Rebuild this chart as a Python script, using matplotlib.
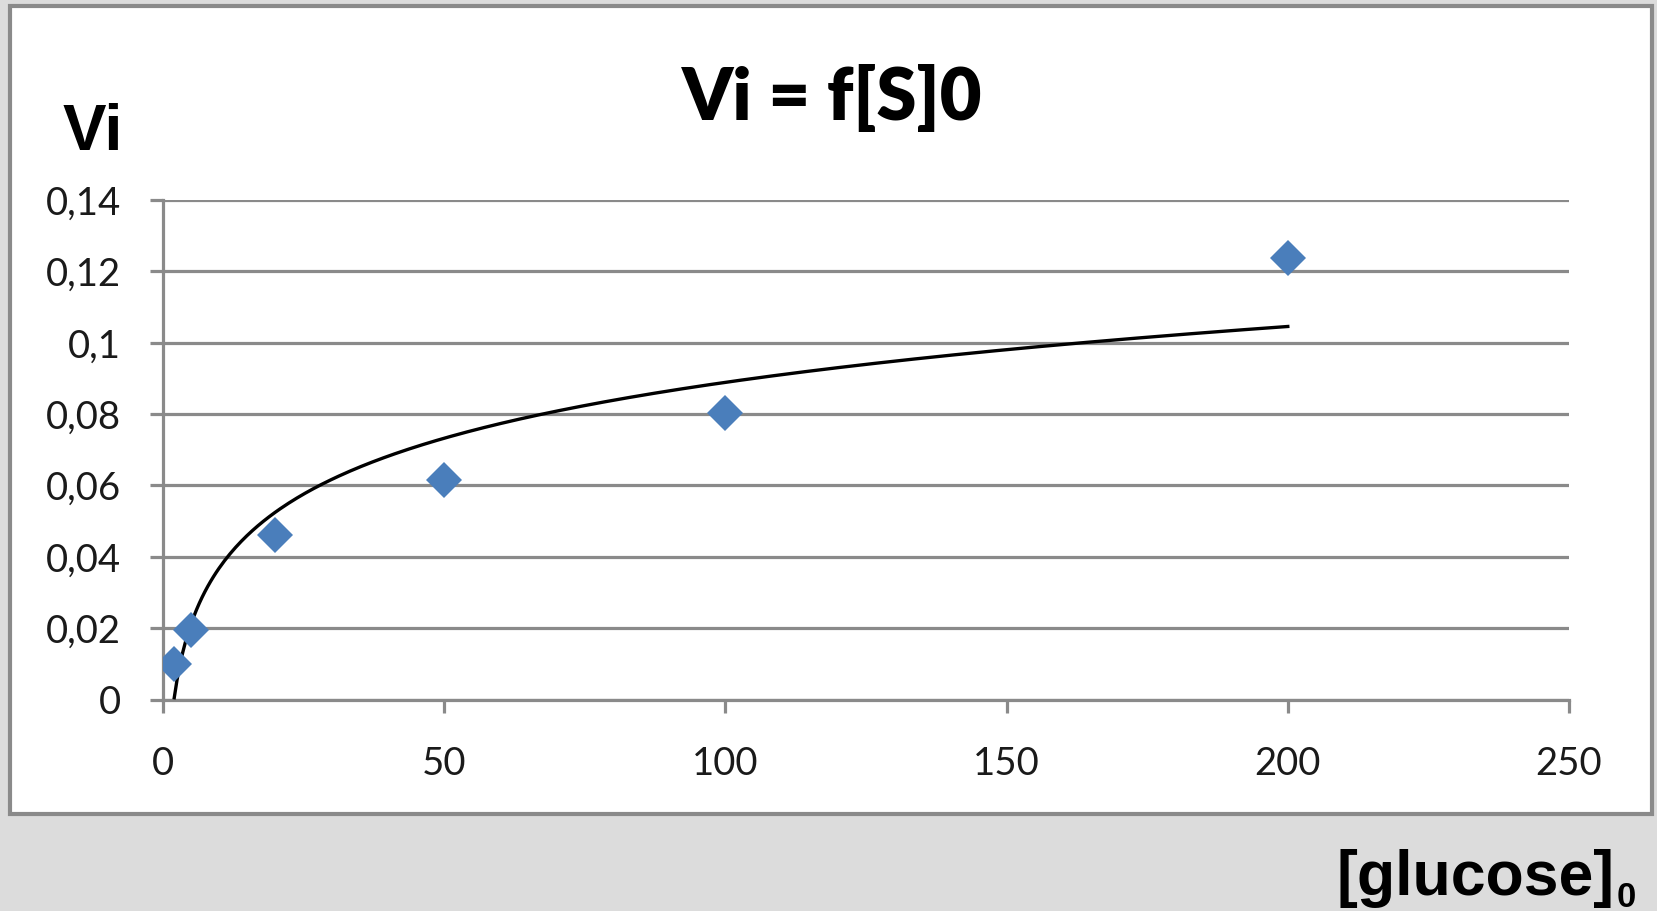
import matplotlib.pyplot as plt
import numpy as np
from matplotlib.patches import Rectangle

# glucose concentration vs initial rate
glucose = [2, 5, 20, 50, 100, 200]
vi = [0.0100, 0.0195, 0.0460, 0.0616, 0.0802, 0.1237]

x_ticks = [0, 50, 100, 150, 200, 250]
y_ticks = [0, 0.02, 0.04, 0.06, 0.08, 0.10, 0.12, 0.14]
y_tick_labels = ['0', '0,02', '0,04', '0,06', '0,08', '0,1', '0,12', '0,14']

W, H = 1657, 911
fig = plt.figure(figsize=(W / 100, H / 100), dpi=100)
fig.patch.set_facecolor('#dcdcdc')

# white chart box with grey border
fig.patches.append(Rectangle((9.5 / W, 1 - 814 / H), (1652 - 9.5) / W, (814 - 5.5) / H,
                             transform=fig.transFigure, facecolor='white',
                             edgecolor='#8a8a8a', linewidth=3, zorder=-5))

ax = fig.add_axes([163 / W, 1 - 699.6 / H, (1569 - 163) / W, (699.6 - 200) / H])
ax.set_facecolor('none')
ax.set_zorder(2)

# logarithmic trend line fitted to the points
a, b = np.polyfit(np.log(glucose), vi, 1)
xs = np.linspace(min(glucose), max(glucose), 400)
ax.plot(xs, a * np.log(xs) + b, color='black', linewidth=2.4, zorder=3)

ax.plot(glucose, vi, linestyle='none', marker='D', markersize=18,
        color='#4a7ebb', markeredgewidth=0, zorder=4)

ax.set_xlim(0, 250)
ax.set_ylim(0, 0.14)
ax.set_xticks(x_ticks)
ax.set_yticks(y_ticks)
ax.set_yticklabels(y_tick_labels)
ax.grid(axis='y', color='#8a8a8a', linewidth=2.3)
ax.set_axisbelow(True)

for side in ['top', 'right']:
    ax.spines[side].set_visible(False)
for side in ['left', 'bottom']:
    ax.spines[side].set_color('#8a8a8a')
    ax.spines[side].set_linewidth(2.3)

ax.tick_params(axis='both', direction='out', length=9.5, width=2.3, color='#8a8a8a',
               labelsize=27.5, labelcolor='#1a1a1a')
ax.tick_params(axis='y', pad=21)
ax.tick_params(axis='x', pad=24)
for lbl in ax.get_xticklabels() + ax.get_yticklabels():
    lbl.set_fontfamily('Lato')

fig.text(832 / W, 1 - 120 / H, 'Vi = f[S]0', ha='center', va='baseline',
         fontsize=52, fontweight='heavy', family='Lato')
fig.text(63 / W, 1 - 150 / H, 'Vi', ha='left', va='baseline',
         fontsize=47, fontweight='bold', family='Liberation Sans')
fig.text(1614 / W, 1 - 895 / H, '[glucose]', ha='right', va='baseline',
         fontsize=45, fontweight='bold', family='Liberation Sans')
fig.text(1617 / W, 1 - 907 / H, '0', ha='left', va='baseline',
         fontsize=25, fontweight='bold', family='Liberation Sans')

fig.savefig('out.png', dpi=100, facecolor=fig.get_facecolor())
